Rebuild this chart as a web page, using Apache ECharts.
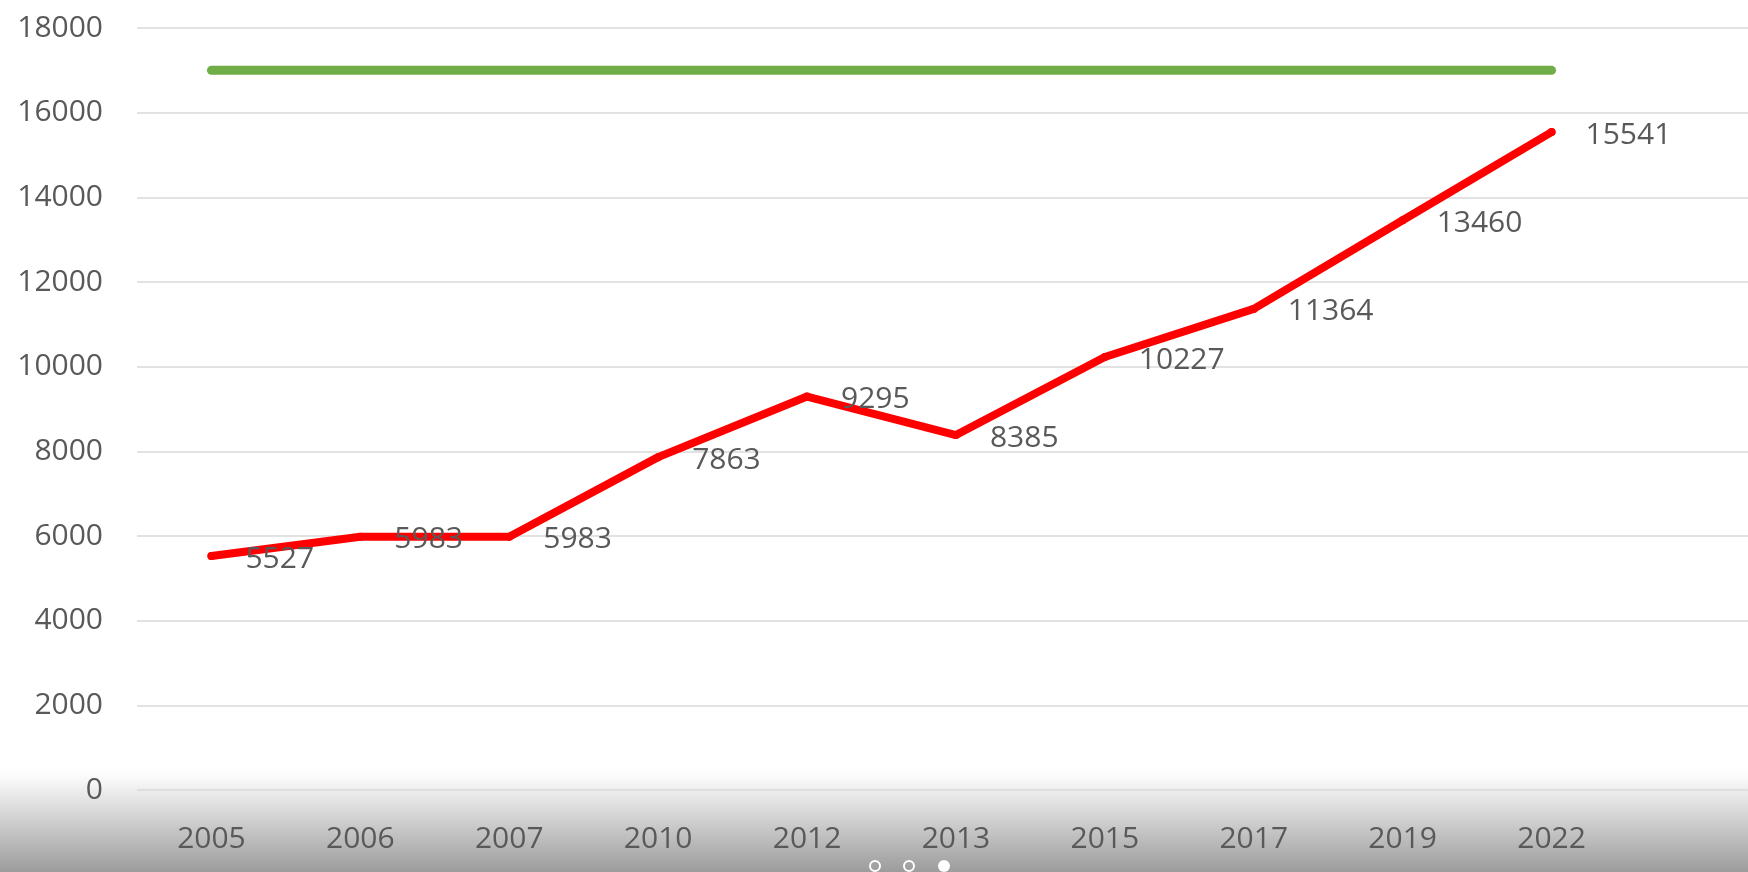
<!DOCTYPE html>
<html>
<head>
<meta charset="utf-8">
<script src="https://cdn.jsdelivr.net/npm/echarts@6/dist/echarts.min.js"></script>
<style>
html,body{margin:0;padding:0;background:#fff;}
#chart{width:1748px;height:872px;}
</style>
</head>
<body>
<div id="chart"></div>
<script>
const categories = ['2005','2006','2007','2010','2012','2013','2015','2017','2019','2022'];
const actualValues = [5527, 5983, 5983, 7863, 9295, 8385, 10227, 11364, 13460, 15541];
const targetValues = [17000, 17000, 17000, 17000, 17000, 17000, 17000, 17000, 17000, 17000];
const yMin = 0, yMax = 18000, yInterval = 2000;

const FONT = 'Open Sans';
const TEXT = '#595959';

const chart = echarts.init(document.getElementById('chart'), null, {renderer: 'canvas'});
chart.setOption({
  animation: false,
  backgroundColor: '#ffffff',
  grid: [
    {left: 137, width: 1489, top: 28, bottom: 82},
    {left: 137, right: 0, top: 28, bottom: 82}
  ],
  xAxis: [
    {
      type: 'category', gridIndex: 0, data: categories, boundaryGap: true,
      axisLine: {show: false}, axisTick: {show: false}, splitLine: {show: false},
      axisLabel: {margin: 34, fontSize: 30, lineHeight: 30, fontFamily: FONT, color: TEXT}
    },
    {type: 'value', gridIndex: 1, min: 0, max: 1, show: false}
  ],
  yAxis: [
    {
      type: 'value', gridIndex: 0, min: yMin, max: yMax, interval: yInterval,
      axisLine: {show: false}, axisTick: {show: false}, splitLine: {show: false},
      axisLabel: {margin: 34, fontSize: 30, fontFamily: FONT, color: TEXT,
        formatter: function (v) { return String(v); }}
    },
    {
      type: 'value', gridIndex: 1, min: yMin, max: yMax, interval: yInterval,
      axisLine: {show: false}, axisTick: {show: false}, axisLabel: {show: false},
      splitLine: {show: true, lineStyle: {color: '#d9d9d9', width: 1.5}}
    }
  ],
  graphic: [
    {
      type: 'rect', z: -1, silent: true,
      shape: {x: 0, y: 762, width: 1748, height: 110},
      style: {fill: new echarts.graphic.LinearGradient(0, 0, 0, 1, [
        {offset: 0, color: 'rgba(255,255,255,0)'},
        {offset: 0.25, color: '#eeeeee'},
        {offset: 1, color: '#9c9c9c'}
      ])}
    },
    {type: 'circle', z: 10, silent: true, shape: {cx: 875, cy: 866, r: 5}, style: {fill: 'none', stroke: '#ffffff', lineWidth: 2}},
    {type: 'circle', z: 10, silent: true, shape: {cx: 909, cy: 866, r: 5}, style: {fill: 'none', stroke: '#ffffff', lineWidth: 2}},
    {type: 'circle', z: 10, silent: true, shape: {cx: 944, cy: 866, r: 6}, style: {fill: '#ffffff'}}
  ],
  series: [
    {
      name: 'Target', type: 'line', xAxisIndex: 0, yAxisIndex: 0,
      data: targetValues, showSymbol: false, symbol: 'none',
      lineStyle: {color: '#70ad47', width: 9, cap: 'round', join: 'round'},
      itemStyle: {color: '#70ad47'}
    },
    {
      name: 'Actual', type: 'line', xAxisIndex: 0, yAxisIndex: 0,
      data: actualValues, symbol: 'circle', symbolSize: 8, showSymbol: true,
      lineStyle: {color: '#ff0000', width: 8, cap: 'round', join: 'round'},
      itemStyle: {color: '#ff0000'},
      label: {show: true, position: 'right', distance: 30, offset: [0, 3], fontSize: 30, fontFamily: FONT, color: TEXT}
    }
  ]
});
</script>
</body>
</html>
